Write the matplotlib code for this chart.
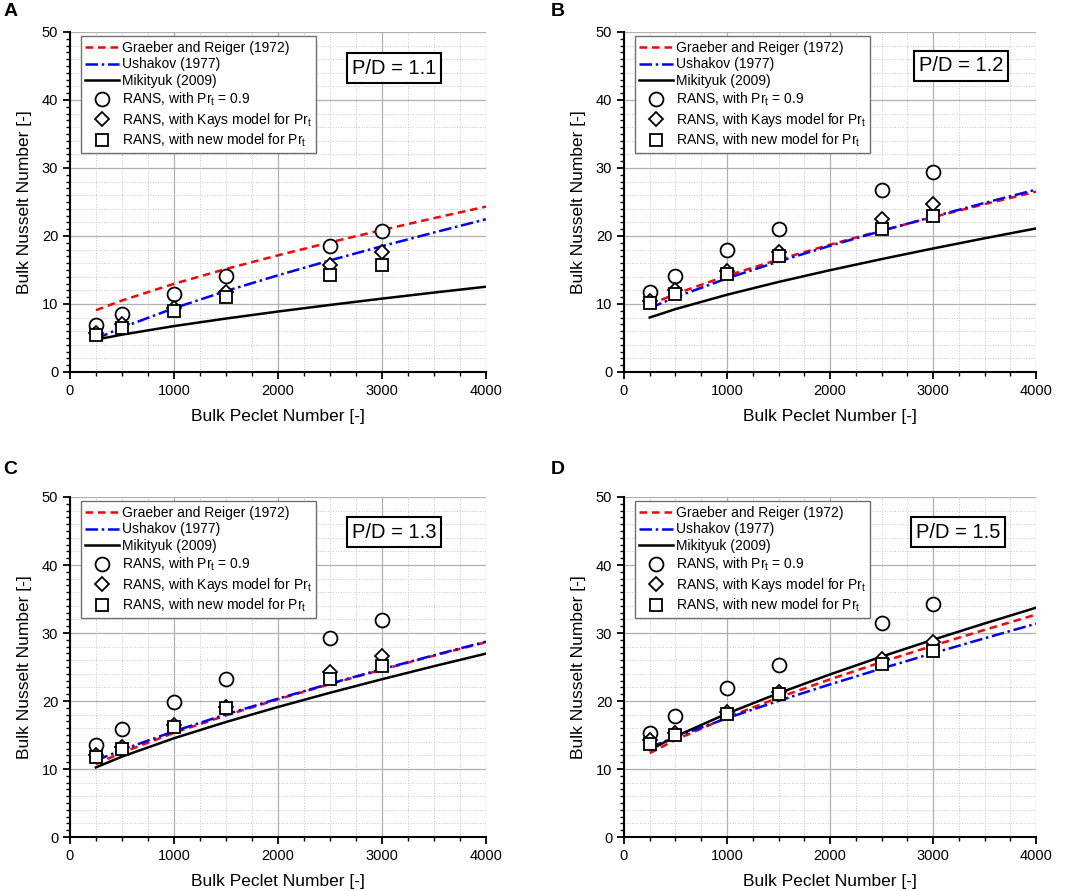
import numpy as np
import matplotlib
matplotlib.use("Agg")
from matplotlib import pyplot as plt
from matplotlib.ticker import MultipleLocator

plt.rcParams["font.family"] = ["Liberation Sans", "DejaVu Sans"]

# correlation curves
pe_line = [250, 500, 1000, 1500, 2000, 2500, 3000, 3500, 4000]

graeber = {
    "A": [9.09, 10.52, 12.97, 15.15, 17.16, 19.06, 20.88, 22.63, 24.32],
    "B": [9.91, 11.48, 14.16, 16.53, 18.72, 20.80, 22.77, 24.68, 26.52],
    "C": [10.72, 12.42, 15.32, 17.88, 20.25, 22.48, 24.61, 26.67, 28.65],
    "D": [12.34, 14.28, 17.58, 20.50, 23.19, 25.72, 28.14, 30.46, 32.71],
}
ushakov = {
    "A": [4.88, 6.54, 9.38, 11.90, 14.22, 16.41, 18.50, 20.51, 22.46],
    "B": [9.40, 11.00, 13.77, 16.25, 18.56, 20.74, 22.84, 24.86, 26.82],
    "C": [11.24, 12.81, 15.55, 18.03, 20.34, 22.55, 24.68, 26.73, 28.73],
    "D": [13.16, 14.70, 17.47, 20.02, 22.44, 24.77, 27.03, 29.22, 31.37],
}
mikityuk = {
    "A": [4.76, 5.49, 6.75, 7.86, 8.89, 9.86, 10.79, 11.68, 12.54],
    "B": [8.01, 9.25, 11.36, 13.24, 14.97, 16.60, 18.16, 19.66, 21.11],
    "C": [10.24, 11.82, 14.52, 16.91, 19.12, 21.21, 23.20, 25.12, 26.97],
    "D": [12.80, 14.78, 18.16, 21.14, 23.91, 26.52, 29.01, 31.40, 33.72],
}

# RANS results
pe_rans = [250, 500, 1000, 1500, 2500, 3000]
rans_09 = {
    "A": [6.9, 8.6, 11.5, 14.1, 18.6, 20.8],
    "B": [11.7, 14.1, 17.9, 21.1, 26.8, 29.4],
    "C": [13.5, 15.9, 19.9, 23.2, 29.2, 31.9],
    "D": [15.3, 17.8, 21.9, 25.3, 31.5, 34.3],
}
rans_kays = {
    "A": [5.7, 7.1, 9.4, 11.7, 15.8, 17.6],
    "B": [10.5, 12.0, 14.8, 17.6, 22.5, 24.7],
    "C": [12.0, 13.2, 16.4, 19.1, 24.3, 26.6],
    "D": [14.2, 15.3, 18.4, 21.3, 26.2, 28.7],
}
rans_new = {
    "A": [5.4, 6.4, 8.9, 11.0, 14.3, 15.7],
    "B": [10.1, 11.4, 14.4, 17.1, 21.1, 22.9],
    "C": [11.8, 12.9, 16.2, 19.0, 23.3, 25.1],
    "D": [13.7, 15.0, 18.1, 21.0, 25.4, 27.3],
}

panels = ["A", "B", "C", "D"]
pd_labels = {"A": "P/D = 1.1", "B": "P/D = 1.2", "C": "P/D = 1.3", "D": "P/D = 1.5"}

# axes boxes in figure fractions [left, bottom, width, height]
boxes = {
    "A": [0.0657, 0.5825, 0.3906, 0.3816],
    "B": [0.5859, 0.5825, 0.3869, 0.3816],
    "C": [0.0657, 0.0606, 0.3906, 0.3816],
    "D": [0.5859, 0.0606, 0.3869, 0.3816],
}
pd_pos = {"A": (0.779, 0.894), "B": (0.818, 0.900), "C": (0.779, 0.897), "D": (0.81, 0.897)}
letter_pos = {"A": (0.003, 0.987), "B": (0.517, 0.987), "C": (0.003, 0.473), "D": (0.517, 0.473)}

fig = plt.figure(figsize=(10.65, 8.91), dpi=100)

for p in panels:
    ax = fig.add_axes(boxes[p])
    ax.plot(pe_line, graeber[p], color="red", ls=(0, (3, 2)), lw=1.8, label="Graeber and Reiger (1972)")
    ax.plot(pe_line, ushakov[p], color="blue", ls=(0, (5, 1.5, 1, 1.5)), lw=1.8, label="Ushakov (1977)")
    ax.plot(pe_line, mikityuk[p], color="black", ls="-", lw=1.8, label="Mikityuk (2009)")
    ax.plot(pe_rans, rans_09[p], ls="none", marker="o", ms=10, mfc="white", mec="black", mew=1.3,
            label="RANS, with Pr$_\\mathregular{t}$ = 0.9")
    ax.plot(pe_rans, rans_kays[p], ls="none", marker="D", ms=7.5, mfc="white", mec="black", mew=1.3,
            label="RANS, with Kays model for Pr$_\\mathregular{t}$")
    ax.plot(pe_rans, rans_new[p], ls="none", marker="s", ms=9, mfc="white", mec="black", mew=1.3,
            label="RANS, with new model for Pr$_\\mathregular{t}$")

    ax.set_xlim(0, 4000)
    ax.set_ylim(0, 50)
    ax.xaxis.set_major_locator(MultipleLocator(1000))
    ax.xaxis.set_minor_locator(MultipleLocator(250))
    ax.yaxis.set_major_locator(MultipleLocator(10))
    ax.yaxis.set_minor_locator(MultipleLocator(1))
    ax.grid(True, which="major", color="#b0b0b0", lw=0.9)
    ax.grid(True, which="minor", axis="x", color="#c8c8c8", lw=0.7, ls=":")
    for yv in np.arange(2, 50, 2):
        if yv % 10:
            ax.axhline(yv, color="#c8c8c8", lw=0.7, ls=":", zorder=0.5)
    ax.set_axisbelow(True)
    for s in ["top", "right"]:
        ax.spines[s].set_visible(False)
    for s in ["left", "bottom"]:
        ax.spines[s].set_linewidth(1.5)
    ax.tick_params(which="major", direction="out", length=5, width=1.3, labelsize=10.5)
    ax.tick_params(which="minor", direction="out", length=3, width=1.0)
    ax.set_xlabel("Bulk Peclet Number [-]", fontsize=12.5, labelpad=8)
    ax.set_ylabel("Bulk Nusselt Number [-]", fontsize=12.5, labelpad=7)

    leg = ax.legend(loc="upper left", bbox_to_anchor=(0.02, 0.995), fontsize=10, fancybox=False,
                    edgecolor="#707070", framealpha=1, handlelength=2.4, handletextpad=0.25,
                    labelspacing=0.2, borderpad=0.3, borderaxespad=0.2)
    leg.get_frame().set_linewidth(1.0)

    ax.text(pd_pos[p][0], pd_pos[p][1], pd_labels[p], transform=ax.transAxes, fontsize=14.5,
            ha="center", va="center",
            bbox=dict(boxstyle="square,pad=0.25", fc="white", ec="black", lw=1.5))

    fig.text(letter_pos[p][0], letter_pos[p][1], p, fontsize=14, fontweight="bold", ha="left", va="center")

fig.savefig("out.png", dpi=100)
